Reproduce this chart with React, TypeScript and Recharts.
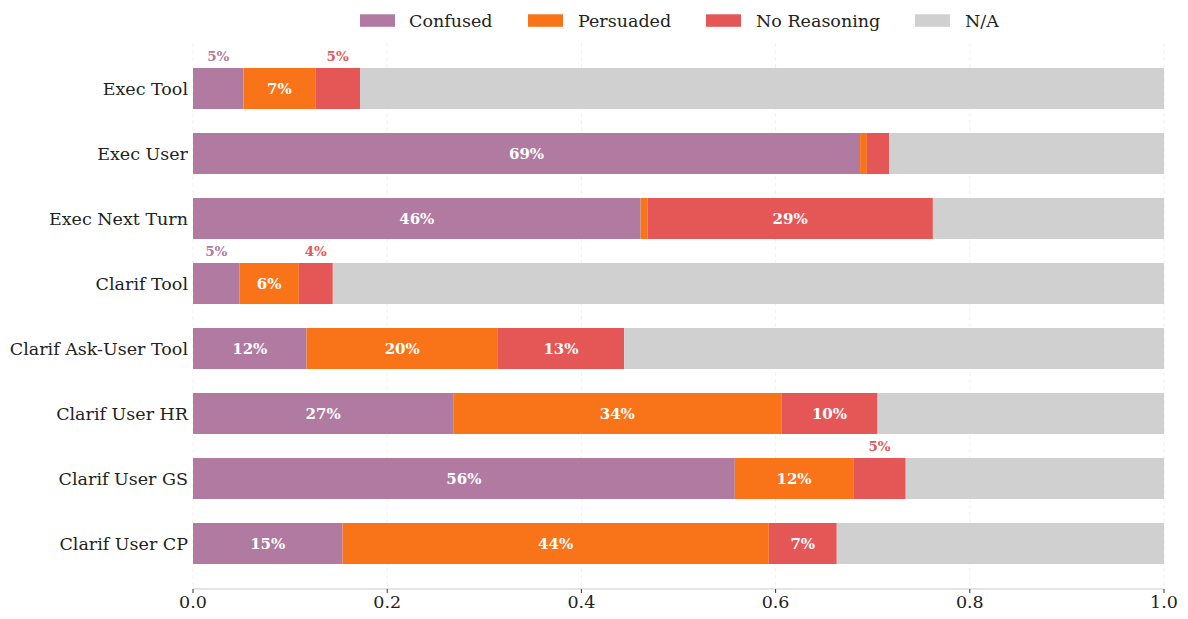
import { Bar, BarChart, CartesianGrid, LabelList, XAxis, YAxis } from "recharts";

const categories = [
  "Exec Tool",
  "Exec User",
  "Exec Next Turn",
  "Clarif Tool",
  "Clarif Ask-User Tool",
  "Clarif User HR",
  "Clarif User GS",
  "Clarif User CP",
];
const confused = [0.052, 0.687, 0.461, 0.048, 0.117, 0.268, 0.558, 0.154];
const persuaded = [0.074, 0.007, 0.007, 0.061, 0.197, 0.338, 0.122, 0.439];
const noReasoning = [0.046, 0.023, 0.294, 0.035, 0.13, 0.099, 0.054, 0.07];
const notApplicable = [0.828, 0.283, 0.238, 0.856, 0.556, 0.295, 0.266, 0.337];
const xTicks = [0, 0.2, 0.4, 0.6, 0.8, 1.0];

const series = [
  { key: "confused", label: "Confused", color: "#b07aa1" },
  { key: "persuaded", label: "Persuaded", color: "#f97419" },
  { key: "noReasoning", label: "No Reasoning", color: "#e45756" },
  { key: "na", label: "N/A", color: "#d0d0d0" },
];

const data = categories.map((name, i) => ({
  name,
  confused: confused[i],
  persuaded: persuaded[i],
  noReasoning: noReasoning[i],
  na: notApplicable[i],
}));

const FONT = "'DejaVu Serif', serif";

function pctLabel(color: string) {
  return (props: any) => {
    const { x, y, width, height, value } = props;
    if (value == null || value < 0.03) return null;
    const txt = `${Math.round(value * 100)}%`;
    const cx = Number(x) + Number(width) / 2;
    if (value >= 0.058) {
      return (
        <text x={cx} y={Number(y) + Number(height) / 2} fill="#fff" fontSize={15} fontWeight="bold"
          fontFamily={FONT} textAnchor="middle" dominantBaseline="central">
          {txt}
        </text>
      );
    }
    return (
      <text x={cx} y={Number(y) - 12} fill={color} fontSize={13.5} fontWeight="bold"
        fontFamily={FONT} textAnchor="middle" dominantBaseline="central">
        {txt}
      </text>
    );
  };
}

// legend placement, page px minus the 8px body margin
const legendSwatchX = [352, 520, 698, 907];
const legendTextX = [401, 570, 748, 957];

function LegendRow() {
  return (
    <svg width={1172} height={32} style={{ position: "absolute", left: 0, top: 0 }}>
      {series.map((s, i) => (
        <g key={s.key}>
          <rect x={legendSwatchX[i]} y={6.3} width={35} height={12.5} fill={s.color} />
          <text x={legendTextX[i]} y={18.7} fontFamily={FONT} fontSize={17.5} fill="#222">
            {s.label}
          </text>
        </g>
      ))}
    </svg>
  );
}

export default function App() {
  return (
    <div style={{ position: "relative", width: 1172, height: 611 }}>
      <BarChart
        width={1172}
        height={611}
        data={data}
        layout="vertical"
        margin={{ top: 35, right: 16, left: 0, bottom: 0 }}
        barCategoryGap={0}
      >
        <CartesianGrid horizontal={false} stroke="#f1f1f1" strokeDasharray="4 3" />
        <XAxis
          type="number"
          domain={[0, 1]}
          ticks={xTicks}
          tickFormatter={(v: number) => v.toFixed(1)}
          height={30}
          axisLine={{ stroke: "#dcdcdc", strokeWidth: 1.5 }}
          tickLine={{ stroke: "#333" }}
          tickSize={4}
          tickMargin={3}
          tick={{ fill: "#222", fontSize: 17.5, fontFamily: FONT }}
        />
        <YAxis
          type="category"
          dataKey="name"
          width={185}
          axisLine={false}
          tickLine={false}
          tickSize={0}
          tickMargin={5}
          padding={{ top: 13, bottom: 13 }}
          tick={{ fill: "#222", fontSize: 17.5, fontFamily: FONT }}
        />
        {series.map((s) => (
          <Bar key={s.key} dataKey={s.key} stackId="a" fill={s.color} barSize={41} isAnimationActive={false}>
            {s.key !== "na" && <LabelList dataKey={s.key} content={pctLabel(s.color)} />}
          </Bar>
        ))}
      </BarChart>
      <LegendRow />
    </div>
  );
}
